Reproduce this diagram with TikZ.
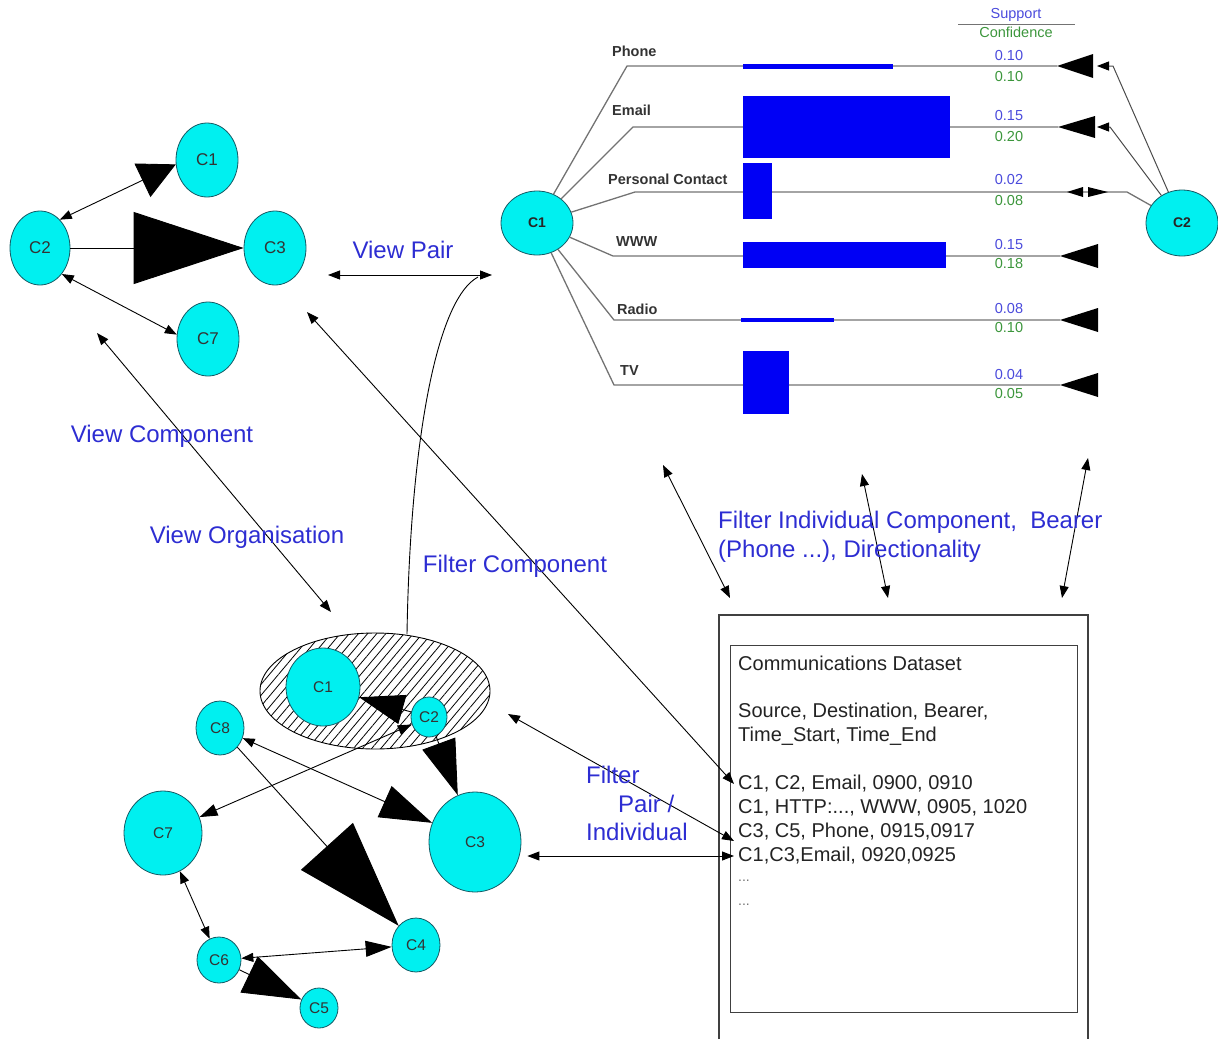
\documentclass[tikz,border=0pt]{standalone}
\usepackage{fontspec}
\setmainfont{Liberation Sans}
\usetikzlibrary{shapes.geometric,arrows.meta,patterns.meta}
\definecolor{cyanf}{RGB}{0,240,240}
\definecolor{cborder}{RGB}{20,90,100}
\definecolor{lblue}{RGB}{45,45,210}
\definecolor{nblue}{RGB}{75,75,220}
\definecolor{ngreen}{RGB}{60,150,60}
\definecolor{barblue}{RGB}{0,0,245}
\definecolor{bgrey}{RGB}{115,115,115}
\definecolor{dtext}{RGB}{35,35,35}
\tikzset{
  tS/.tip={Triangle[length=12pt,width=9pt]},
  tM/.tip={Triangle[length=18pt,width=12pt]},
  cnodeL/.style={ellipse, draw=cborder, fill=cyanf, line width=0.8pt, inner sep=0pt, text=black!80, font=\fontsize{17}{17}\selectfont},
  cnodeS/.style={ellipse, draw=cborder, fill=cyanf, line width=0.8pt, inner sep=0pt, text=black!80, font=\fontsize{15.5}{15.5}\selectfont},
  cnodeB/.style={ellipse, draw=cborder, fill=cyanf, line width=0.8pt, inner sep=0pt, text=black!85, font=\bfseries\fontsize{14}{14}\selectfont},
  conn/.style={line width=0.9pt, draw=black},
  bline/.style={line width=1.3pt, draw=bgrey},
  cline/.style={line width=1pt, draw=black!70},
  lbl/.style={text=lblue, inner sep=0pt, font=\fontsize{24}{28}\selectfont},
  blab/.style={text=black!80, inner sep=0pt, font=\bfseries\fontsize{14.5}{15}\selectfont},
  num/.style={inner sep=0pt, font=\fontsize{14.5}{15}\selectfont},
  dtxt/.style={text=dtext, inner sep=0pt, anchor=west, font=\fontsize{20}{22}\selectfont},
  boxline/.style={line width=1.1pt, draw=black!75}
}
\begin{document}
\begin{tikzpicture}[x=1pt,y=-1pt]
\useasboundingbox (0,0) rectangle (1218,1039);

% ---------- top-left graph ----------
\node[cnodeL, minimum width=62pt, minimum height=74pt] (L1) at (207,160) {C1};
\node[cnodeL, minimum width=60pt, minimum height=74pt] (L2) at (40,248) {C2};
\node[cnodeL, minimum width=62pt, minimum height=74pt] (L3) at (275,248) {C3};
\node[cnodeL, minimum width=62pt, minimum height=74pt] (L7) at (208,339) {C7};
\draw[conn, tS-{Triangle[length=37pt,width=37pt]}] (L2.55) -- (L1.188);
\draw[conn, -{Triangle[length=110pt,width=72pt]}] (L2) -- (L3);
\draw[conn, tS-tS] (L2.-50) -- (L7.172);

% ---------- top-right bearer chart ----------
\coordinate (bP) at (627,66);  \coordinate (eP) at (1057,66);
\coordinate (bE) at (633,127); \coordinate (eE) at (1058,127);
\coordinate (bC) at (635,192); \coordinate (eC) at (1127,192);
\coordinate (bW) at (613,256); \coordinate (eW) at (1060,256);
\coordinate (bR) at (614,320); \coordinate (eR) at (1060,320);
\coordinate (bT) at (614,385); \coordinate (eT) at (1060,385);
\coordinate (cP) at (1113,66); \coordinate (aP) at (1097,66);
\coordinate (cE) at (1110,127); \coordinate (aE) at (1097,127);

\node[cnodeB, minimum width=72pt, minimum height=64pt] (R1) at (537,223) {C1};
\node[cnodeB, minimum width=72pt, minimum height=66pt] (R2) at (1182,223) {C2};

\draw[bline] (R1) -- (bP) -- (eP);
\draw[bline] (R1) -- (bE) -- (eE);
\draw[bline] (R1) -- (bC) -- (eC) -- (R2);
\draw[bline] (R1) -- (bW) -- (eW);
\draw[bline] (R1) -- (bR) -- (eR);
\draw[bline] (R1) -- (bT) -- (eT);
\draw[cline, -{Triangle[length=12pt,width=9pt,color=black]}] (R2) -- (cP) -- (aP);
\draw[cline, -{Triangle[length=12pt,width=9pt,color=black]}] (R2) -- (cE) -- (aE);

\fill[barblue] (743,64) rectangle (893,68.5);
\fill[barblue] (743,96) rectangle (950,158);
\fill[barblue] (743,163) rectangle (772,219);
\fill[barblue] (743,242) rectangle (946,268);
\fill[barblue] (741,318) rectangle (834,322);
\fill[barblue] (743,351) rectangle (789,414);

\fill[black] (eP) -- (1093,54) -- (1093,78) -- cycle;
\fill[black] (eE) -- (1095,116) -- (1095,138) -- cycle;
\fill[black] (eW) -- (1098,244) -- (1098,268) -- cycle;
\fill[black] (eR) -- (1098,308) -- (1098,332) -- cycle;
\fill[black] (eT) -- (1098,373) -- (1098,397) -- cycle;
\fill[black] (1067,192) -- (1083,187) -- (1083,197) -- cycle;
\fill[black] (1108,192) -- (1088,187) -- (1088,197) -- cycle;

\node[blab, anchor=west] (tPh) at (612,51) {Phone};
\node[blab, anchor=west] (tEm) at (612,110) {Email};
\node[blab, anchor=west] (tPC) at (608,179) {Personal Contact};
\node[blab, anchor=west] (tWW) at (616,242) {WWW};
\node[blab, anchor=west] (tRa) at (617,309) {Radio};
\node[blab, anchor=west] (tTV) at (620,371) {TV};

\node[num, text=nblue] (hS) at (1016,15) {Support};
\draw[bgrey, line width=0.8pt] (958,24) -- (1075,24);
\node[num, text=ngreen] (hC) at (1016,32) {Confidence};

\node[num, text=nblue]  (s1) at (1009,56)  {0.10};
\node[num, text=ngreen] (c1) at (1009,77)  {0.10};
\node[num, text=nblue]  (s2) at (1009,116) {0.15};
\node[num, text=ngreen] (c2) at (1009,137) {0.20};
\node[num, text=nblue]  (s3) at (1009,180) {0.02};
\node[num, text=ngreen] (c3) at (1009,201) {0.08};
\node[num, text=nblue]  (s4) at (1009,245) {0.15};
\node[num, text=ngreen] (c4) at (1009,264) {0.18};
\node[num, text=nblue]  (s5) at (1009,309) {0.08};
\node[num, text=ngreen] (c5) at (1009,328) {0.10};
\node[num, text=nblue]  (s6) at (1009,375) {0.04};
\node[num, text=ngreen] (c6) at (1009,394) {0.05};

% ---------- dataset box ----------
\draw[boxline] (719,1039) -- (719,615) -- (1088,615) -- (1088,1039);
\node[boxline, draw, rectangle, minimum width=347pt, minimum height=367pt, anchor=north west, inner sep=0pt] (dsIn) at (730,645) {};
\node[dtxt] (ds0) at (738,663) {Communications Dataset};
\node[dtxt] (ds1) at (738,712) {Source, Destination, Bearer,};
\node[dtxt] (ds2) at (738,736) {Time\_Start, Time\_End};
\node[dtxt] (row1) at (738,784) {C1, C2, Email, 0900, 0910};
\node[dtxt] (row2) at (738,808) {C1, HTTP:..., WWW, 0905, 1020};
\node[dtxt] (row3) at (738,832) {C3, C5, Phone, 0915,0917};
\node[dtxt] (row4) at (738,856) {C1,C3,Email, 0920,0925};
\node[dtxt, text=black!55, font=\fontsize{14}{14}\selectfont] (dot1) at (738,881) {...};
\node[dtxt, text=black!55, font=\fontsize{14}{14}\selectfont] (dot2) at (738,905) {...};

% ---------- bottom-left organisation graph ----------
\node[ellipse, draw=black, line width=0.9pt, minimum width=230pt, minimum height=116pt,
      pattern={Lines[angle=50,distance=7pt,line width=0.8pt]}] (Org) at (375,691) {};
\node[cnodeS, minimum width=74pt, minimum height=78pt] (B1) at (323,687) {C1};
\node[cnodeS, minimum width=36pt, minimum height=40pt] (B2) at (429,717) {C2};
\node[cnodeS, minimum width=48pt, minimum height=54pt] (B8) at (220,728) {C8};
\node[cnodeS, minimum width=78pt, minimum height=84pt] (B7) at (163,833) {C7};
\node[cnodeS, minimum width=92pt, minimum height=100pt] (B3) at (475,842) {C3};
\node[cnodeS, minimum width=48pt, minimum height=54pt] (B4) at (416,945) {C4};
\node[cnodeS, minimum width=44pt, minimum height=46pt] (B6) at (219,960) {C6};
\node[cnodeS, minimum width=38pt, minimum height=40pt] (B5) at (319,1008) {C5};

\draw[conn, -{Triangle[length=45pt,width=30pt]}] (B2) -- (B1);
\draw[conn, {Triangle[length=14pt,width=10pt]}-tM] (B2) -- (B7);
\draw[conn, -{Triangle[length=55pt,width=35pt]}] (B2) -- (B3);
\draw[conn, tS-{Triangle[length=52pt,width=34pt]}] (B8) -- (B3);
\draw[conn, -{Triangle[length=107pt,width=70pt]}] (B8) -- (B4);
\draw[conn, tS-tS] (B7) -- (B6);
\draw[conn, tS-{Triangle[length=26pt,width=16pt]}] (B6) -- (B4);
\draw[conn, -{Triangle[length=58pt,width=40pt]}] (B6) -- (B5);

% ---------- interaction arrows ----------
\coordinate (vpL) at (328,275); \coordinate (vpR) at (492,275);
\coordinate (orgTop) at (407,634); \coordinate (crvEnd) at (478,277);
\coordinate (fcA) at (307,312);
\coordinate (vcA) at (97,333); \coordinate (vcB) at (331,612);
\coordinate (fpA) at (508,714);
\coordinate (f1A) at (663,465); \coordinate (f1B) at (730,598);
\coordinate (f2A) at (862,474); \coordinate (f2B) at (888,598);
\coordinate (f3A) at (1088,458); \coordinate (f3B) at (1062,598);

\draw[conn, tS-tS] (vpL) -- (vpR);
\draw[conn] (orgTop) .. controls (410,450) and (435,300) .. (crvEnd);
\draw[conn, tS-tS] (fcA) -- ([xshift=-4pt]row1.west);
\draw[conn, tS-tS] (vcA) -- (vcB);
\draw[conn, tS-tS] (fpA) -- ([xshift=-4pt,yshift=-9pt]row3.west);
\draw[conn, tS-tS] ([xshift=6pt]B3.east |- row4.west) -- ([xshift=-4pt]row4.west);
\draw[conn, tS-tS] (f1A) -- (f1B);
\draw[conn, tS-tS] (f2A) -- (f2B);
\draw[conn, tS-tS] (f3A) -- (f3B);

% ---------- blue labels ----------
\node[lbl] (tVP) at (403,250) {View Pair};
\node[lbl] (tVC) at (162,436) {View Component};
\node[lbl] (tVO) at (247,537) {View Organisation};
\node[lbl] (tFC) at (515,566) {Filter Component};
\node[lbl, anchor=west] (tFI1) at (718,522) {Filter Individual Component,\ \ Bearer};
\node[lbl, anchor=west] (tFI2) at (718,551) {(Phone ...), Directionality};
\node[lbl, anchor=west] (tFP1) at (586,775) {Filter};
\node[lbl, anchor=west] (tFP2) at (618,804) {Pair /};
\node[lbl, anchor=west] (tFP3) at (586,832) {Individual};
\end{tikzpicture}
\end{document}
